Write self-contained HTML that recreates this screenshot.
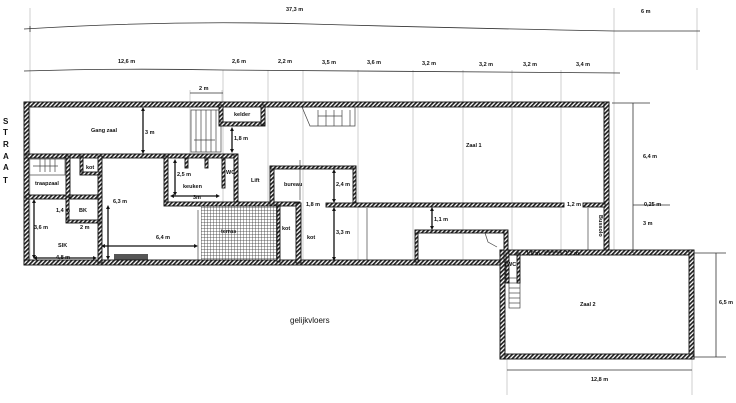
<!DOCTYPE html>
<html><head><meta charset="utf-8"><style>
html,body{margin:0;padding:0;background:#fff;}
svg{display:block;font-family:"Liberation Sans",sans-serif;}
text{font-size:5.5px;fill:#111;font-weight:bold;}
.g{stroke:#cfcfcf;stroke-width:1;}
.d{stroke:#333;stroke-width:0.8;fill:none;}
.a{stroke:#111;stroke-width:1.3;fill:none;marker-start:url(#m);marker-end:url(#m);}
.w{fill:url(#h);stroke:#111;stroke-width:0.9;}
.t{stroke:#444;stroke-width:0.7;fill:none;}
</style></head><body>
<svg width="736" height="403" viewBox="0 0 736 403">
<defs>
<pattern id="h" width="3" height="3" patternUnits="userSpaceOnUse" patternTransform="rotate(45)">
<rect width="3" height="3" fill="#fff"/><rect width="1.7" height="3" fill="#222"/></pattern>
<pattern id="grid" width="3" height="3" patternUnits="userSpaceOnUse">
<rect width="3" height="3" fill="#fff"/><path d="M0 0H3M0 0V3" stroke="#333" stroke-width="0.8"/></pattern>
<marker id="m" viewBox="0 0 6 6" refX="3" refY="3" markerWidth="3" markerHeight="3" orient="auto-start-reverse"><path d="M0 0L6 3L0 6z" fill="#111"/></marker>
</defs>

<g class="g">
<line x1="30" y1="8" x2="30" y2="265"/>
<line x1="223" y1="70" x2="223" y2="265"/>
<line x1="268" y1="70" x2="268" y2="265"/>
<line x1="303" y1="70" x2="303" y2="265"/>
<line x1="358" y1="70" x2="358" y2="265"/>
<line x1="413" y1="70" x2="413" y2="265"/>
<line x1="463" y1="70" x2="463" y2="265"/>
<line x1="512" y1="70" x2="512" y2="253"/>
<line x1="561" y1="70" x2="561" y2="253"/>
<line x1="614" y1="8" x2="614" y2="253"/>
<line x1="697" y1="8" x2="697" y2="70"/>
<line x1="190" y1="90" x2="190" y2="155"/>
<line x1="222" y1="90" x2="222" y2="107"/>
<line x1="507" y1="357" x2="507" y2="395"/>
<line x1="692" y1="357" x2="692" y2="395"/>
</g>

<path class="d" d="M24 29 Q170 20 310 24 T614 31 L700 31"/>
<line class="d" x1="30" y1="26" x2="30" y2="32"/>
<text x="286" y="11">37,3 m</text>
<text x="641" y="13">6 m</text>
<path class="d" d="M24 71 Q120 68 223 70 L620 73"/>
<text x="118" y="63">12,6 m</text>
<text x="232" y="63">2,6 m</text>
<text x="278" y="63">2,2 m</text>
<text x="322" y="64">3,5 m</text>
<text x="367" y="64">3,6 m</text>
<text x="422" y="65">3,2 m</text>
<text x="479" y="66">3,2 m</text>
<text x="523" y="66">3,2 m</text>
<text x="576" y="66">3,4 m</text>
<line class="d" x1="190" y1="93" x2="223" y2="93"/>
<text x="199" y="90">2 m</text>

<text x="3" y="124" style="font-size:8px">S</text>
<text x="3" y="135" style="font-size:8px">T</text>
<text x="3" y="147" style="font-size:8px">R</text>
<text x="3" y="159" style="font-size:8px">A</text>
<text x="3" y="170" style="font-size:8px">A</text>
<text x="3" y="183" style="font-size:8px">T</text>

<rect x="201" y="205" width="76" height="56" fill="url(#grid)"/>
<rect x="114" y="254" width="34" height="6" fill="#555"/>

<g class="t">
<rect x="191" y="110" width="30" height="42"/>
<line x1="196" y1="110" x2="196" y2="152"/><line x1="201" y1="110" x2="201" y2="152"/>
<line x1="206" y1="110" x2="206" y2="152"/><line x1="211" y1="110" x2="211" y2="152"/>
<line x1="216" y1="110" x2="216" y2="152"/>
<line x1="194" y1="140" x2="215" y2="140"/>
<path d="M302 107 L310 126 L355 126 L355 107"/>
<line x1="318" y1="110" x2="318" y2="126"/><line x1="326" y1="110" x2="326" y2="126"/>
<line x1="334" y1="110" x2="334" y2="126"/><line x1="342" y1="110" x2="342" y2="126"/>
<line x1="350" y1="110" x2="350" y2="126"/><line x1="318" y1="116" x2="342" y2="116"/>
<rect x="29" y="159" width="36" height="16"/>
<line x1="40" y1="159" x2="40" y2="172"/><line x1="45" y1="159" x2="45" y2="172"/>
<line x1="50" y1="159" x2="50" y2="172"/><line x1="55" y1="159" x2="55" y2="172"/>
<line x1="33" y1="166" x2="58" y2="166"/>
<rect x="509" y="278" width="11" height="30"/>
<line x1="509" y1="283" x2="520" y2="283"/><line x1="509" y1="288" x2="520" y2="288"/>
<line x1="509" y1="293" x2="520" y2="293"/><line x1="509" y1="298" x2="520" y2="298"/>
<line x1="509" y1="303" x2="520" y2="303"/>
<line x1="300" y1="160" x2="300" y2="200"/>
<line x1="367" y1="208" x2="367" y2="262"/>
<line x1="588" y1="208" x2="588" y2="253"/>
<line x1="26" y1="200" x2="26" y2="240"/>
<line x1="99" y1="210" x2="99" y2="250"/>
<line x1="198" y1="210" x2="198" y2="260"/>
<path d="M485 233 L488 242 L497 247"/>
</g>

<g class="w">
<rect x="24" y="102" width="585" height="5"/>
<rect x="24" y="102" width="5" height="163"/>
<rect x="24" y="260" width="485" height="5"/>
<rect x="604" y="102" width="5" height="153"/>
<rect x="500" y="250" width="194" height="5"/>
<rect x="689" y="250" width="5" height="109"/>
<rect x="500" y="354" width="194" height="5"/>
<rect x="500" y="250" width="5" height="109"/>
<rect x="26" y="154" width="211" height="4"/>
<rect x="219" y="105" width="4" height="20"/>
<rect x="219" y="122" width="46" height="4"/>
<rect x="261" y="105" width="4" height="20"/>
<rect x="234" y="154" width="4" height="48"/>
<rect x="222" y="158" width="3" height="30"/>
<rect x="26" y="195" width="76" height="4"/>
<rect x="66" y="156" width="4" height="42"/>
<rect x="98" y="156" width="4" height="107"/>
<rect x="80" y="156" width="3" height="18"/>
<rect x="80" y="172" width="20" height="3"/>
<rect x="66" y="197" width="3" height="25"/>
<rect x="66" y="220" width="34" height="3"/>
<rect x="164" y="156" width="4" height="49"/>
<rect x="164" y="202" width="136" height="4"/>
<rect x="185" y="158" width="3" height="10"/>
<rect x="205" y="158" width="3" height="10"/>
<rect x="270" y="166" width="4" height="40"/>
<rect x="270" y="166" width="86" height="3"/>
<rect x="353" y="166" width="3" height="40"/>
<rect x="326" y="203" width="238" height="4"/>
<rect x="583" y="203" width="22" height="4"/>
<rect x="296" y="203" width="5" height="60"/>
<rect x="277" y="205" width="3" height="57"/>
<rect x="415" y="230" width="3" height="32"/>
<rect x="415" y="230" width="92" height="3"/>
<rect x="504" y="230" width="4" height="32"/>
<rect x="506" y="253" width="3" height="30"/>
<rect x="517" y="253" width="3" height="30"/>
<rect x="545" y="252" width="16" height="3"/>
</g>

<g class="a">
<line x1="143" y1="109" x2="143" y2="152"/>
<line x1="232" y1="129" x2="232" y2="151"/>
<line x1="108" y1="207" x2="108" y2="258"/>
<line x1="34" y1="201" x2="34" y2="257"/>
<line x1="35" y1="258" x2="95" y2="258"/>
<line x1="103" y1="246" x2="196" y2="246"/>
<line x1="175" y1="161" x2="175" y2="194"/>
<line x1="172" y1="196" x2="218" y2="196"/>
<line x1="334" y1="171" x2="334" y2="201"/>
<line x1="334" y1="209" x2="334" y2="259"/>
<line x1="432" y1="209" x2="432" y2="228"/>
</g>
<g class="d">
<line x1="633" y1="103" x2="633" y2="253"/>
<line x1="612" y1="103" x2="650" y2="103"/>
<line x1="633" y1="205" x2="670" y2="205"/>
<line x1="716" y1="253" x2="716" y2="357"/>
<line x1="694" y1="253" x2="726" y2="253"/>
<line x1="694" y1="357" x2="726" y2="357"/>
<line x1="507" y1="370" x2="692" y2="370"/>
</g>

<text x="91" y="132">Gang zaal</text>
<text x="145" y="134">3 m</text>
<text x="234" y="116">kelder</text>
<text x="234" y="140">1,8 m</text>
<text x="86" y="169">kot</text>
<text x="35" y="185">traapzaal</text>
<text x="113" y="203">6,3 m</text>
<text x="56" y="212">1,4 m</text>
<text x="79" y="212">BK</text>
<text x="80" y="229">2 m</text>
<text x="34" y="229">3,6 m</text>
<text x="58" y="247">SlK</text>
<text x="56" y="259">4,8 m</text>
<text x="156" y="239">6,4 m</text>
<text x="177" y="176">2,5 m</text>
<text x="183" y="188">keuken</text>
<text x="193" y="199">3m</text>
<text x="226" y="174">WC</text>
<text x="251" y="182">Lift</text>
<text x="284" y="186">bureau</text>
<text x="336" y="186">2,4 m</text>
<text x="306" y="206">1,8 m</text>
<text x="336" y="234">3,3 m</text>
<text x="307" y="239">kot</text>
<text x="282" y="230">kot</text>
<text x="221" y="233">terras</text>
<text x="466" y="147">Zaal 1</text>
<text x="434" y="221">1,1 m</text>
<text x="567" y="206">1,2 m</text>
<text x="526" y="255">1,5 m</text>
<text x="565" y="255">1,2 m</text>
<text x="507" y="266">WC</text>
<text transform="translate(599,215) rotate(90)">Bussolo</text>
<text x="643" y="158">6,4 m</text>
<text x="644" y="206">0,25 m</text>
<text x="643" y="225">3 m</text>
<text x="580" y="306">Zaal 2</text>
<text x="719" y="304">6,5 m</text>
<text x="591" y="381">12,8 m</text>
<text x="290" y="323" style="font-size:8px;font-weight:normal">gelijkvloers</text>
</svg>
</body></html>
